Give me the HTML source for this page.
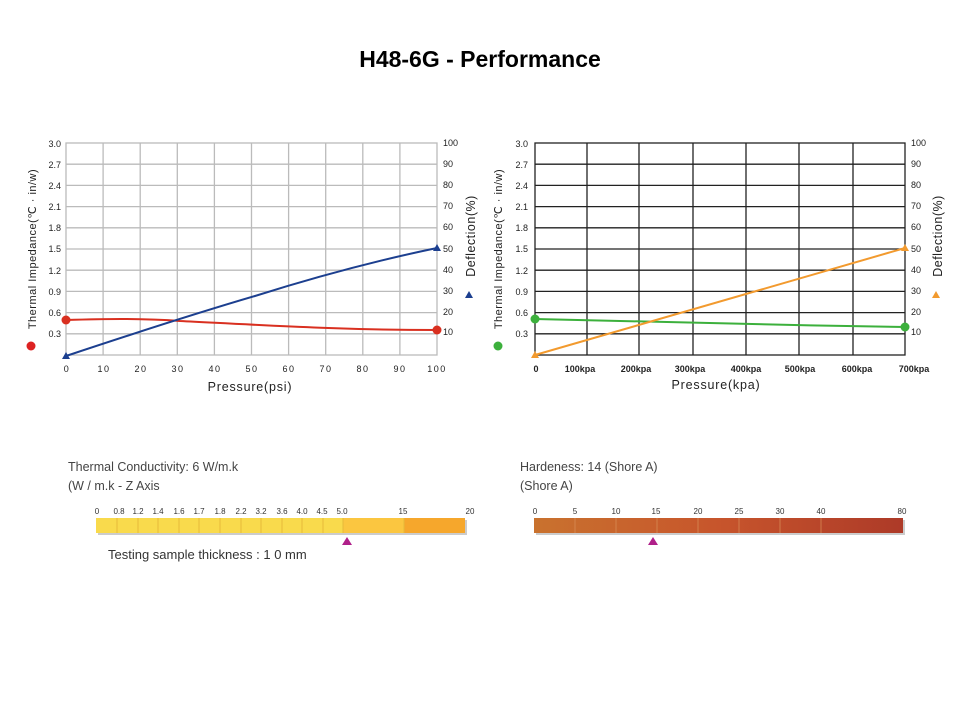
<!DOCTYPE html>
<html><head><meta charset="utf-8"><style>
body{margin:0;background:#fff;}
svg{display:block;font-family:"Liberation Sans",Arial,sans-serif;}
</style></head><body>
<svg width="960" height="720" viewBox="0 0 960 720">
<text x="480" y="67" text-anchor="middle" font-size="23" font-weight="bold" fill="#000">H48-6G - Performance</text>

<!-- LEFT CHART -->
<g stroke="#bbb" stroke-width="1.3" fill="none">
<rect x="66" y="143" width="371" height="212"/>
<path d="M103.1 143V355M140.2 143V355M177.3 143V355M214.4 143V355M251.5 143V355M288.6 143V355M325.7 143V355M362.8 143V355M399.9 143V355"/>
<path d="M66 164.2H437M66 185.4H437M66 206.6H437M66 227.8H437M66 249H437M66 270.2H437M66 291.4H437M66 312.6H437M66 333.8H437"/>
</g>
<g font-size="9" fill="#222" text-anchor="end">
<text x="61" y="147">3.0</text><text x="61" y="168">2.7</text><text x="61" y="189">2.4</text><text x="61" y="210">2.1</text><text x="61" y="231">1.8</text><text x="61" y="252">1.5</text><text x="61" y="274">1.2</text><text x="61" y="295">0.9</text><text x="61" y="316">0.6</text><text x="61" y="337">0.3</text>
</g>
<g font-size="9" fill="#222">
<text x="443" y="146">100</text><text x="443" y="167">90</text><text x="443" y="188">80</text><text x="443" y="209">70</text><text x="443" y="230">60</text><text x="443" y="252">50</text><text x="443" y="273">40</text><text x="443" y="294">30</text><text x="443" y="315">20</text><text x="443" y="335">10</text>
</g>
<g font-size="9" fill="#222" text-anchor="middle" letter-spacing="1.5">
<text x="67" y="372">0</text><text x="104" y="372">10</text><text x="141" y="372">20</text><text x="178" y="372">30</text><text x="215" y="372">40</text><text x="252" y="372">50</text><text x="289" y="372">60</text><text x="326" y="372">70</text><text x="363" y="372">80</text><text x="400" y="372">90</text><text x="437" y="372">100</text>
</g>
<text x="250" y="391" font-size="12.5" text-anchor="middle" fill="#222" letter-spacing="0.8">Pressure(psi)</text>
<text transform="translate(36,249) rotate(-90)" font-size="11" text-anchor="middle" fill="#222" letter-spacing="0.5">Thermal Impedance(℃ · in/w)</text>
<circle cx="31" cy="346" r="4.5" fill="#d22"/>
<text transform="translate(475,236) rotate(-90)" font-size="12.5" text-anchor="middle" fill="#222" letter-spacing="0.5">Deflection(%)</text>
<path d="M465 298l4 -7 4 7z" fill="#1c3f8f"/>
<path d="M66 320 C100 319 140 318 180 321 C260 325 340 330 437 330" stroke="#d93020" stroke-width="2" fill="none"/>
<path d="M66 356 Q180 318 255 296 Q350 266 437 248" stroke="#1c3f8f" stroke-width="2" fill="none"/>
<circle cx="66" cy="320" r="4.5" fill="#d93020"/><circle cx="437" cy="330" r="4.5" fill="#d93020"/>
<path d="M62 359l4 -7 4 7z M433 251l4 -7 4 7z" fill="#1c3f8f"/>

<!-- RIGHT CHART -->
<g stroke="#222" stroke-width="1.3" fill="none">
<rect x="535" y="143" width="370" height="212"/>
<path d="M587 143V355M639 143V355M693 143V355M746 143V355M799 143V355M853 143V355"/>
<path d="M535 164.2H905M535 185.4H905M535 206.6H905M535 227.8H905M535 249H905M535 270.2H905M535 291.4H905M535 312.6H905M535 333.8H905"/>
</g>
<g font-size="9" fill="#222" text-anchor="end">
<text x="528" y="147">3.0</text><text x="528" y="168">2.7</text><text x="528" y="189">2.4</text><text x="528" y="210">2.1</text><text x="528" y="231">1.8</text><text x="528" y="252">1.5</text><text x="528" y="274">1.2</text><text x="528" y="295">0.9</text><text x="528" y="316">0.6</text><text x="528" y="337">0.3</text>
</g>
<g font-size="9" fill="#222">
<text x="911" y="146">100</text><text x="911" y="167">90</text><text x="911" y="188">80</text><text x="911" y="209">70</text><text x="911" y="230">60</text><text x="911" y="252">50</text><text x="911" y="273">40</text><text x="911" y="294">30</text><text x="911" y="315">20</text><text x="911" y="335">10</text>
</g>
<g font-size="9" fill="#222" text-anchor="middle" font-weight="bold">
<text x="536" y="372">0</text><text x="580" y="372">100kpa</text><text x="636" y="372">200kpa</text><text x="690" y="372">300kpa</text><text x="746" y="372">400kpa</text><text x="800" y="372">500kpa</text><text x="857" y="372">600kpa</text><text x="914" y="372">700kpa</text>
</g>
<text x="716" y="389" font-size="12.5" text-anchor="middle" fill="#222" letter-spacing="0.8">Pressure(kpa)</text>
<text transform="translate(502,249) rotate(-90)" font-size="11" text-anchor="middle" fill="#222" letter-spacing="0.5">Thermal Impedance(℃ · in/w)</text>
<circle cx="498" cy="346" r="4.5" fill="#3cb03c"/>
<text transform="translate(942,236) rotate(-90)" font-size="12.5" text-anchor="middle" fill="#222" letter-spacing="0.5">Deflection(%)</text>
<path d="M932 298l4 -7 4 7z" fill="#f29a2e"/>
<path d="M535 319 C650 322 780 325 905 327" stroke="#3cb03c" stroke-width="2" fill="none"/>
<path d="M535 355 L905 248" stroke="#f29a2e" stroke-width="2" fill="none"/>
<circle cx="535" cy="319" r="4.5" fill="#3cb03c"/><circle cx="905" cy="327" r="4.5" fill="#3cb03c"/>
<path d="M531 358l4 -7 4 7z M901 251l4 -7 4 7z" fill="#f29a2e"/>

<!-- THERMAL CONDUCTIVITY BAR -->
<text x="68" y="471" font-size="12.5" fill="#444">Thermal Conductivity: 6 W/m.k</text>
<text x="68" y="490" font-size="12.5" fill="#444">(W / m.k - Z Axis</text>
<rect x="98" y="520" width="369" height="15" fill="#ccc"/>
<rect x="96" y="518" width="247" height="15" fill="#f9da4c"/>
<rect x="343" y="518" width="61" height="15" fill="#fbc640"/>
<rect x="404" y="518" width="61" height="15" fill="#f6a72c"/>
<g stroke="#e6b93a" stroke-width="1"><path d="M117 518v15M138 518v15M158 518v15M179 518v15M199 518v15M220 518v15M241 518v15M261 518v15M282 518v15M302 518v15M323 518v15M343 518v15M404 518v15"/></g>
<g font-size="8" fill="#333" text-anchor="middle">
<text x="97" y="514">0</text><text x="119" y="514">0.8</text><text x="138" y="514">1.2</text><text x="158" y="514">1.4</text><text x="179" y="514">1.6</text><text x="199" y="514">1.7</text><text x="220" y="514">1.8</text><text x="241" y="514">2.2</text><text x="261" y="514">3.2</text><text x="282" y="514">3.6</text><text x="302" y="514">4.0</text><text x="322" y="514">4.5</text><text x="342" y="514">5.0</text><text x="403" y="514">15</text><text x="470" y="514">20</text>
</g>
<path d="M342 545l5 -8 5 8z" fill="#b0208a"/>
<text x="108" y="559" font-size="13" fill="#333">Testing sample thickness :  1 0 mm</text>

<!-- HARDNESS BAR -->
<text x="520" y="471" font-size="12.5" fill="#444">Hardeness: 14 (Shore A)</text>
<text x="520" y="490" font-size="12.5" fill="#444">(Shore A)</text>
<defs><linearGradient id="hg" x1="0" x2="1"><stop offset="0" stop-color="#c9722e"/><stop offset="0.5" stop-color="#c7552c"/><stop offset="1" stop-color="#ad3a28"/></linearGradient></defs>
<rect x="536" y="520" width="369" height="15" fill="#ccc"/>
<rect x="534" y="518" width="369" height="15" fill="url(#hg)"/>
<g stroke="#d9905a" stroke-width="1" opacity="0.7"><path d="M575 518v15M616 518v15M657 518v15M698 518v15M739 518v15M780 518v15M821 518v15"/></g>
<g font-size="8" fill="#333" text-anchor="middle">
<text x="535" y="514">0</text><text x="575" y="514">5</text><text x="616" y="514">10</text><text x="656" y="514">15</text><text x="698" y="514">20</text><text x="739" y="514">25</text><text x="780" y="514">30</text><text x="821" y="514">40</text><text x="902" y="514">80</text>
</g>
<path d="M648 545l5 -8 5 8z" fill="#b0208a"/>
</svg>
</body></html>
